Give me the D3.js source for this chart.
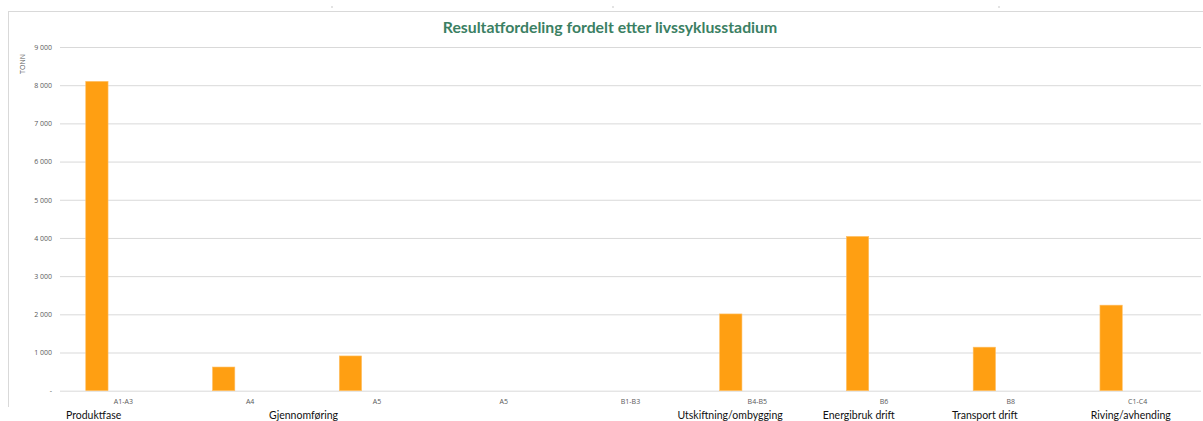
<!DOCTYPE html>
<html>
<head>
<meta charset="utf-8">
<script src="https://cdn.jsdelivr.net/npm/d3@7"></script>
<style>
  html, body { margin: 0; padding: 0; background: #fff; }
  svg { display: block; }
</style>
</head>
<body>
<svg id="chart" width="1203" height="421"></svg>
<script>
// Life-cycle stage codes (x axis) and result per stage, tonnes
const stages = ["A1-A3", "A4", "A5", "A5", "B1-B3", "B4-B5", "B6", "B8", "C1-C4"];
const tonnes = [8100, 620, 910, 0, 0, 2010, 4040, 1140, 2240];

// Phase names written under the stage codes; position given in stage widths from the left
const phaseNames = ["Produktfase", "Gjennomføring", "Utskiftning/ombygging", "Energibruk drift", "Transport drift", "Riving/avhending"];
const phaseAt = [0.047, 1.649, 4.87, 6.017, 7.035, 8.13];

const yTicks = [0, 1000, 2000, 3000, 4000, 5000, 6000, 7000, 8000, 9000];
const title = "Resultatfordeling fordelt etter livssyklusstadium";
const yTitle = "TONN";

const svg = d3.select("#chart");
const W = 1203, H = 421;
const plot = { left: 60, right: 1201, top: 47, bottom: 390.7 };

const keys = stages.map((s, i) => i);
const x = d3.scaleBand().domain(keys).range([plot.left, plot.right]).padding(0);
const y = d3.scaleLinear().domain([0, 9000]).range([plot.bottom, plot.top]);
const bw = x.bandwidth();

// chart frame (top and left edges)
svg.append("line").attr("x1", 8).attr("x2", W).attr("y1", 11.5).attr("y2", 11.5)
  .attr("stroke", "#d9d9d9").attr("stroke-width", 1);
svg.append("line").attr("x1", 8.5).attr("x2", 8.5).attr("y1", 11).attr("y2", 407)
  .attr("stroke", "#d9d9d9").attr("stroke-width", 1);

// small handle marks above the frame
[332, 613, 999].forEach(px => {
  svg.append("rect").attr("x", px - 1).attr("y", 6.5).attr("width", 2).attr("height", 1)
    .attr("fill", "#c8c8c8");
});

// title
svg.append("text")
  .attr("x", 610).attr("y", 32.5)
  .attr("text-anchor", "middle")
  .attr("font-family", "Lato, 'Open Sans', sans-serif")
  .attr("font-weight", "bold")
  .attr("font-size", 15.8)
  .attr("fill", "#3b8063")
  .text(title);

// y gridlines and tick labels
const yAxis = d3.axisLeft(y)
  .tickValues(yTicks)
  .tickSize(-(plot.right - plot.left))
  .tickPadding(8)
  .tickFormat(d => d === 0 ? "-" : d3.format(",")(d).replace(/,/g, " "));

const gy = svg.append("g").attr("transform", `translate(${plot.left},0)`).call(yAxis);
gy.select(".domain").remove();
gy.selectAll(".tick line").attr("stroke", "#d9d9d9").attr("stroke-width", 1);
gy.selectAll(".tick text")
  .attr("fill", "#595959")
  .attr("font-family", "'Open Sans', 'Liberation Sans', sans-serif")
  .attr("font-size", 7);

// y-axis title
svg.append("text")
  .attr("transform", "translate(24.5,64) rotate(-90)")
  .attr("text-anchor", "middle")
  .attr("font-family", "'Open Sans', 'Liberation Sans', sans-serif")
  .attr("font-size", 7)
  .attr("fill", "#595959")
  .text(yTitle);

// bars
const barOffset = 0.203, barWidth = 0.176;
svg.append("g").selectAll("rect")
  .data(keys.filter(i => tonnes[i] > 0))
  .join("rect")
  .attr("x", i => x(i) + bw * barOffset)
  .attr("width", bw * barWidth)
  .attr("y", i => y(tonnes[i]))
  .attr("height", i => y(0) - y(tonnes[i]))
  .attr("fill", "#ff9f12")
  .attr("stroke", "#ffc067")
  .attr("stroke-width", 0.6);

// stage code labels
const xAxis = d3.axisBottom(x).tickSize(0).tickPadding(8).tickFormat(i => stages[i]);
const gx = svg.append("g").attr("transform", `translate(0,${plot.bottom})`).call(xAxis);
gx.select(".domain").remove();
gx.selectAll(".tick text")
  .attr("fill", "#595959")
  .attr("font-family", "'Open Sans', 'Liberation Sans', sans-serif")
  .attr("font-size", 7);

// phase names
svg.append("g").selectAll("text")
  .data(phaseNames)
  .join("text")
  .attr("x", (d, i) => plot.left + bw * phaseAt[i])
  .attr("y", 418.5)
  .attr("font-family", "Lato, 'Open Sans', sans-serif")
  .attr("font-size", 10.5)
  .attr("fill", "#111")
  .text(d => d);
</script>
</body>
</html>
